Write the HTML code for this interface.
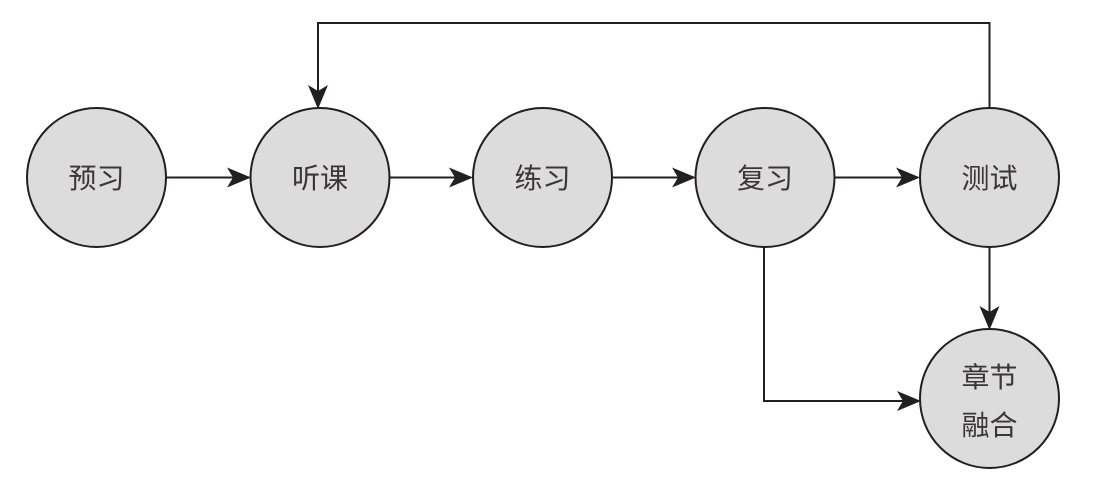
<!DOCTYPE html>
<html><head><meta charset="utf-8"><style>
html,body{margin:0;padding:0;background:#fff;width:1115px;height:503px;overflow:hidden}
text{font-family:"Liberation Sans","Noto Sans CJK SC",sans-serif;font-size:28px;fill:#3a3637}
</style></head><body>
<svg width="1115" height="503" xmlns="http://www.w3.org/2000/svg">
<defs><marker id="a" markerWidth="12" markerHeight="10" refX="11" refY="5" orient="auto" markerUnits="userSpaceOnUse" viewBox="0 0 24 20">
<path d="M0,0 L24,10 L0,20 L6,10 Z" fill="#231f20"/></marker>
<marker id="b" markerWidth="24" markerHeight="20" refX="22" refY="10" orient="auto" markerUnits="userSpaceOnUse">
<path d="M0,0 L24,10 L0,20 L6,10 Z" fill="#231f20"/></marker></defs>
<g stroke="#231f20" stroke-width="2" fill="none">
<line x1="166" y1="177.5" x2="249" y2="177.5" marker-end="url(#b)"/>
<line x1="390" y1="177.5" x2="471" y2="177.5" marker-end="url(#b)"/>
<line x1="612" y1="177.5" x2="694" y2="177.5" marker-end="url(#b)"/>
<line x1="835" y1="177.5" x2="918" y2="177.5" marker-end="url(#b)"/>
<polyline points="989.5,108 989.5,23 318,23 318,107" marker-end="url(#b)"/>
<line x1="989.5" y1="247" x2="989.5" y2="328" marker-end="url(#b)"/>
<polyline points="764,247 764,401 919,401" marker-end="url(#b)"/>
</g>
<g fill="#dcdcdd" stroke="#231f20" stroke-width="2">
<circle cx="96.5" cy="177.5" r="69.5"/>
<circle cx="320" cy="177.5" r="69.5"/>
<circle cx="542.5" cy="177.5" r="69.5"/>
<circle cx="765" cy="177.5" r="69.5"/>
<circle cx="989.5" cy="177.5" r="69.5"/>
<circle cx="989.5" cy="398.5" r="69.5"/>
</g>
<g text-anchor="middle">
<text x="96.5" y="188">预习</text>
<text x="320" y="188">听课</text>
<text x="542.5" y="188">练习</text>
<text x="765" y="188">复习</text>
<text x="989.5" y="188">测试</text>
<text x="989.5" y="387">章节</text>
<text x="989.5" y="435">融合</text>
</g>
</svg>
</body></html>
